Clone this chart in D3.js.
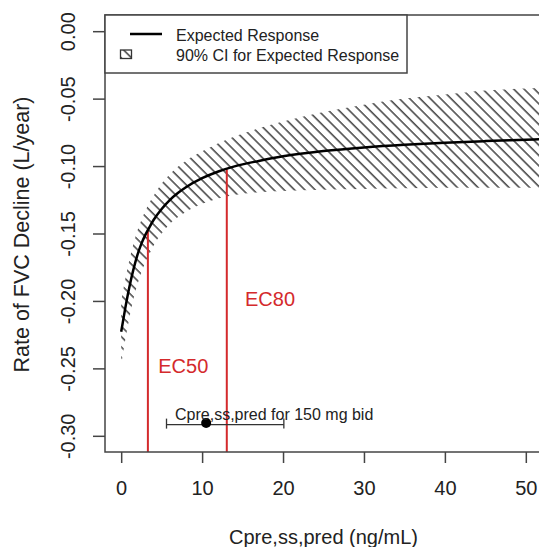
<!DOCTYPE html>
<html>
<head>
<meta charset="utf-8">
<script src="https://cdn.jsdelivr.net/npm/d3@7"></script>
<style>
  html, body { margin: 0; padding: 0; background: #fff; }
  svg { display: block; font-family: "Liberation Sans", Arial, Helvetica, sans-serif; }
</style>
</head>
<body>
<svg id="chart" width="539" height="547"></svg>
<script>
// ---- data ----
const conc = [0, 0.5, 1, 1.5, 2, 2.5, 3, 3.5, 4, 5, 6, 7, 8, 10, 12, 14, 17, 20, 25, 30, 35, 40, 45, 50, 52];
const expected = [-0.2228, -0.2055, -0.1900, -0.1770, -0.1660, -0.1575, -0.1508, -0.1452, -0.1400, -0.1318, -0.1252, -0.1200, -0.1157, -0.1090, -0.1040, -0.1002, -0.0962, -0.0928, -0.0889, -0.0862, -0.0842, -0.0827, -0.0815, -0.0805, -0.0801];
const ciUpper = [-0.200, -0.184, -0.170, -0.158, -0.148, -0.140, -0.133, -0.127, -0.122, -0.113, -0.106, -0.1005, -0.096, -0.089, -0.083, -0.078, -0.072, -0.067, -0.060, -0.0545, -0.050, -0.047, -0.044, -0.0425, -0.042];
const ciLower = [-0.2475, -0.229, -0.213, -0.199, -0.188, -0.179, -0.171, -0.165, -0.159, -0.150, -0.143, -0.138, -0.134, -0.128, -0.124, -0.1215, -0.1195, -0.1185, -0.1175, -0.117, -0.1165, -0.116, -0.116, -0.116, -0.116];

const ecNames = ["EC50", "EC80"];
const ecConc = [3.3, 13.05];
const ecResp = [-0.1473, -0.1023];

const doseLabel = "Cpre,ss,pred for 150 mg bid";
const doseMedian = 10.5;
const doseLow = 5.6;
const doseHigh = 20.1;
const doseResp = -0.2905;

const xTicks = [0, 10, 20, 30, 40, 50];
const xTickLabels = ["0", "10", "20", "30", "40", "50"];
const yTicks = [0, -0.05, -0.10, -0.15, -0.20, -0.25, -0.30];
const yTickLabels = ["0.00", "-0.05", "-0.10", "-0.15", "-0.20", "-0.25", "-0.30"];

const xTitle = "Cpre,ss,pred (ng/mL)";
const yTitle = "Rate of FVC Decline (L/year)";
const legendLabels = ["Expected Response", "90% CI for Expected Response"];

// ---- layout ----
const svg = d3.select("#chart");
const L = 105, T = 15, R = 542, B = 452;
const x = d3.scaleLinear().domain([-2, 52]).range([L, R]);
const y = d3.scaleLinear().domain([-0.312, 0.012]).range([B, T]);
const axisCol = "#444", textCol = "#222", red = "#d42a2c";

const defs = svg.append("defs");
const pat = defs.append("pattern")
  .attr("id", "hatch").attr("patternUnits", "userSpaceOnUse")
  .attr("width", 7.3).attr("height", 10)
  .attr("patternTransform", "rotate(-45)");
pat.append("line").attr("x1", 1).attr("y1", -1).attr("x2", 1).attr("y2", 11)
  .attr("stroke", "#333").attr("stroke-width", 1.4);
defs.append("clipPath").attr("id", "plotclip")
  .append("rect").attr("x", L).attr("y", T).attr("width", R - L).attr("height", B - T);

const pts = conc.map((c, i) => ({c, e: expected[i], lo: ciLower[i], hi: ciUpper[i]}));

const plot = svg.append("g").attr("clip-path", "url(#plotclip)");

// CI band (hatched)
plot.append("path").datum(pts)
  .attr("d", d3.area().x(d => x(d.c)).y0(d => y(d.lo)).y1(d => y(d.hi)).curve(d3.curveMonotoneX))
  .attr("fill", "url(#hatch)").attr("stroke", "none");

// EC lines
ecConc.forEach((c, i) => {
  plot.append("line")
    .attr("x1", x(c)).attr("x2", x(c))
    .attr("y1", y(ecResp[i])).attr("y2", B)
    .attr("stroke", red).attr("stroke-width", 2);
});

// Expected response curve
plot.append("path").datum(pts)
  .attr("d", d3.line().x(d => x(d.c)).y(d => y(d.e)).curve(d3.curveMonotoneX))
  .attr("fill", "none").attr("stroke", "#000").attr("stroke-width", 2.5);

// EC labels
const ecLabelPos = [[4.58, -0.2485], [15.3, -0.1985]];
ecNames.forEach((n, i) => {
  svg.append("text").attr("x", x(ecLabelPos[i][0])).attr("y", y(ecLabelPos[i][1]))
    .attr("dy", "0.35em").attr("fill", red).attr("font-size", 20).text(n);
});

// Dose exposure interval
const eb = svg.append("g").attr("stroke", "#333").attr("stroke-width", 1.3);
eb.append("line").attr("x1", x(doseLow)).attr("x2", x(doseHigh)).attr("y1", y(doseResp - 0.0012)).attr("y2", y(doseResp - 0.0012));
[doseLow, doseHigh].forEach(v => {
  eb.append("line").attr("x1", x(v)).attr("x2", x(v))
    .attr("y1", y(doseResp - 0.0012) - 6).attr("y2", y(doseResp - 0.0012) + 4);
});
svg.append("circle").attr("cx", x(doseMedian)).attr("cy", y(doseResp)).attr("r", 5).attr("fill", "#000");
svg.append("text").attr("x", x(6.65)).attr("y", 420).attr("font-size", 16).attr("fill", textCol).text(doseLabel);

// Box
svg.append("rect").attr("x", L).attr("y", T).attr("width", R - L).attr("height", B - T)
  .attr("fill", "none").attr("stroke", axisCol).attr("stroke-width", 1.5);

// X axis
const xa = svg.append("g").attr("transform", `translate(0,${B})`)
  .call(d3.axisBottom(x).tickValues(xTicks).tickFormat((d, i) => xTickLabels[i]).tickSize(11).tickPadding(18));
xa.select(".domain").remove();
xa.selectAll(".tick line").attr("stroke", axisCol).attr("stroke-width", 1.5);
xa.selectAll(".tick text").attr("font-size", 20).attr("fill", textCol).attr("font-family", null);

// Y axis
const ya = svg.append("g").attr("transform", `translate(${L},0)`)
  .call(d3.axisLeft(y).tickValues(yTicks).tickFormat((d, i) => yTickLabels[i]).tickSize(12));
ya.select(".domain").remove();
ya.selectAll(".tick line").attr("stroke", axisCol).attr("stroke-width", 1.5);
ya.selectAll(".tick text")
  .attr("x", null).attr("dy", "0.35em")
  .attr("transform", "translate(-37,0) rotate(-90)")
  .attr("text-anchor", "middle")
  .attr("font-size", 20).attr("fill", textCol).attr("font-family", null);

// Axis titles
svg.append("text").attr("x", (L + R) / 2).attr("y", 544).attr("text-anchor", "middle")
  .attr("font-size", 20).attr("fill", textCol).text(xTitle);
svg.append("text").attr("transform", `translate(29,${(T + B) / 2 + 1}) rotate(-90)`)
  .attr("text-anchor", "middle").attr("font-size", 21.5).attr("fill", textCol).text(yTitle);

// Legend
const lg = svg.append("g");
lg.append("rect").attr("x", L).attr("y", T).attr("width", 302).attr("height", 58)
  .attr("fill", "#fff").attr("stroke", axisCol).attr("stroke-width", 1.5);
lg.append("line").attr("x1", 130).attr("x2", 162).attr("y1", 34).attr("y2", 34)
  .attr("stroke", "#000").attr("stroke-width", 2.5);
lg.append("rect").attr("x", 120.5).attr("y", 50).attr("width", 11).attr("height", 8.5)
  .attr("fill", "url(#hatch)").attr("stroke", "#333").attr("stroke-width", 1.3);
legendLabels.forEach((t, i) => {
  lg.append("text").attr("x", 176).attr("y", 40.5 + i * 20.5).attr("font-size", 16)
    .attr("fill", textCol).text(t);
});
</script>
</body>
</html>
